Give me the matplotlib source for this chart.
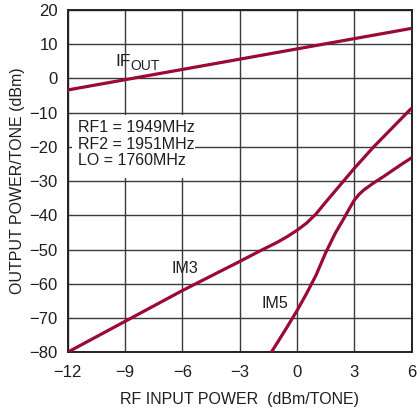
import matplotlib
matplotlib.use("Agg")
import matplotlib.pyplot as plt
from matplotlib.patches import Rectangle
from matplotlib import font_manager

names = {f.name for f in font_manager.fontManager.ttflist}
FAM = ['Liberation Sans Narrow', 'DejaVu Sans'] if 'Liberation Sans Narrow' in names else ['Liberation Sans', 'DejaVu Sans']
plt.rcParams['font.family'] = FAM

# Data
if_x = [-12, 6]
if_y = [-3.4, 14.6]

im3_x = [-12, -9, -6, -3, -2, -1, -0.5, 0, 0.5, 1, 1.5, 2, 2.5, 3, 4, 5, 6]
im3_y = [-80, -71, -62, -53.5, -50.6, -47.8, -46.2, -44.4, -42.3, -39.6, -36.2, -32.9, -29.6, -26.3, -20.1, -14.4, -8.7]

im5_x = [-1.34, -1, -0.5, 0, 0.5, 1, 1.5, 2, 2.5, 2.8, 3, 3.25, 3.5, 4, 4.5, 5, 5.5, 6]
im5_y = [-80, -77, -72.5, -67.9, -62.9, -57.5, -51, -45.3, -40.5, -37.5, -35.6, -33.9, -32.6, -30.6, -28.8, -26.9, -25, -23.2]

xticks = [-12, -9, -6, -3, 0, 3, 6]
yticks = [-80, -70, -60, -50, -40, -30, -20, -10, 0, 10, 20]
info_lines = ["RF1 = 1949MHz", "RF2 = 1951MHz", "LO = 1760MHz"]

RED = '#9a0a32'
TXT = '#1e1e1e'

fig = plt.figure(figsize=(4.17, 4.12), dpi=100)
ax = fig.add_axes([0.162, 0.145, 0.825, 0.831])
ax.set_xlim(-12, 6)
ax.set_ylim(-80, 20)
ax.set_xticks(xticks)
ax.set_yticks(yticks)
ax.set_xticklabels([f"{v}".replace('-', '\u2212') for v in xticks])
ax.set_yticklabels([f"{v}".replace('-', '\u2212') for v in yticks])
ax.tick_params(length=0, labelsize=12, colors=TXT)
ax.tick_params(axis='y', pad=7)
ax.tick_params(axis='x', pad=9)
ax.grid(True, color='#3a3a3a', lw=1.0)
ax.set_axisbelow(True)
for s in ax.spines.values():
    s.set_color('#222222')
    s.set_linewidth(1.4)

for xs, ys in [(if_x, if_y), (im3_x, im3_y), (im5_x, im5_y)]:
    ax.plot(xs, ys, color=RED, lw=2.3, solid_capstyle='butt', solid_joinstyle='round', zorder=3)

# white box behind the conditions text
ax.add_patch(Rectangle((-11.75, -29.1), 6.4, 18.4, facecolor='white', edgecolor='none', zorder=1.5))
for i, t in enumerate(info_lines):
    ax.text(-11.45, -14.4 - i * 4.85, t, fontsize=11.5, color=TXT, ha='left', va='center', zorder=4)

ax.text(-9.5, 5.0, "IF", fontsize=12.5, color=TXT, ha='left', va='center', zorder=4)
ax.text(-8.72, 3.6, "OUT", fontsize=10, color=TXT, ha='left', va='center', zorder=4)
ax.text(-5.84, -55.4, "IM3", fontsize=11.5, color=TXT, ha='center', va='center', zorder=4)
ax.text(-1.15, -65.8, "IM5", fontsize=11.5, color=TXT, ha='center', va='center', zorder=4)

ax.set_xlabel("RF INPUT POWER  (dBm/TONE)", fontsize=11.5, color=TXT, labelpad=9)
ax.set_ylabel("OUTPUT POWER/TONE (dBm)", fontsize=11.5, color=TXT, labelpad=3)

fig.savefig("out.png", dpi=100)
